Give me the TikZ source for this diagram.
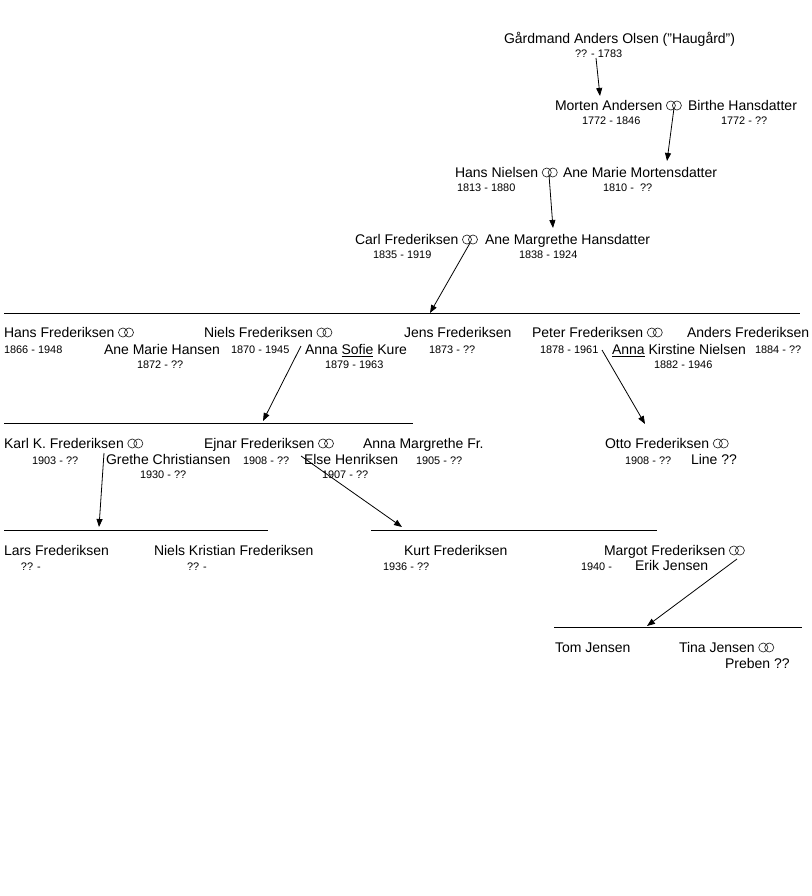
\documentclass[tikz,border=0pt]{standalone}
\usepackage{fontspec}
\setmainfont{Liberation Sans}
\usetikzlibrary{arrows.meta}

\begin{document}
\begin{tikzpicture}[
  x=0.75pt, y=-0.75pt,
  every node/.style = {anchor=base west, inner sep=0pt, outer sep=0pt},
  person/.style = {font=\fontsize{10.5}{12}\selectfont},
  years/.style = {font=\fontsize{8.2}{10}\selectfont},
  rings/.pic = {\draw[line width=0.5pt, black!85]
      (8.5,-4.5) circle[radius=3.4pt] (14.5,-4.5) circle[radius=3.4pt];},
  descent/.style = {-{Triangle[length=6pt,width=4.5pt]}, line width=0.6pt},
  sibs/.style = {line width=0.75pt}
]
  \useasboundingbox (0,0) rectangle (812,896);

  % generation 1
  \node[person] (gaard) at (504,43) {Gårdmand Anders Olsen ("Haugård")};
  \node[years] (gaard-y) at (575,57) {?? - 1783};

  % generation 2
  \node[person] (morten) at (555,110) {Morten Andersen};
  \pic (morten-r) at (morten.base east) {rings};
  \node[person] (birthe) at (688,110) {Birthe Hansdatter};
  \node[years] (morten-y) at (582,124) {1772 - 1846};
  \node[years] (birthe-y) at (721,124) {1772 - ??};

  % generation 3
  \node[person] (hans) at (455,177) {Hans Nielsen};
  \pic (hans-r) at (hans.base east) {rings};
  \node[person] (anemarie) at (563,177) {Ane Marie Mortensdatter};
  \node[years] (hans-y) at (457,191) {1813 - 1880};
  \node[years] (anemarie-y) at (603,191) {1810 -~~??};

  % generation 4
  \node[person] (carl) at (355,244) {Carl Frederiksen};
  \pic (carl-r) at (carl.base east) {rings};
  \node[person] (anemargrethe) at (485,244) {Ane Margrethe Hansdatter};
  \node[years] (carl-y) at (373,258) {1835 - 1919};
  \node[years] (anemargrethe-y) at (519,258) {1838 - 1924};

  % generation 5
  \node[person] (hansf) at (4,337) {Hans Frederiksen};
  \pic (hansf-r) at (hansf.base east) {rings};
  \node[years] (hansf-y) at (4,353) {1866 - 1948};
  \node[person] (amhansen) at (104,354) {Ane Marie Hansen};
  \node[years] (amhansen-y) at (137,368) {1872 - ??};
  \node[person] (niels) at (204,337) {Niels Frederiksen};
  \pic (niels-r) at (niels.base east) {rings};
  \node[years] (niels-y) at (231,353) {1870 - 1945};
  \node[person] (sofie) at (305,354) {Anna \underline{Sofie} Kure};
  \node[years] (sofie-y) at (325,368) {1879 - 1963};
  \node[person] (jens) at (404,337) {Jens Frederiksen};
  \node[years] (jens-y) at (429,353) {1873 - ??};
  \node[person] (peter) at (532,337) {Peter Frederiksen};
  \pic (peter-r) at (peter.base east) {rings};
  \node[years] (peter-y) at (540,353) {1878 - 1961};
  \node[person] (kirstine) at (612,354) {\underline{Anna} Kirstine Nielsen};
  \node[years] (kirstine-y) at (654,368) {1882 - 1946};
  \node[person] (anders) at (687,337) {Anders Frederiksen};
  \node[years] (anders-y) at (755,353) {1884 - ??};

  % generation 6
  \node[person] (karl) at (4,448) {Karl K. Frederiksen};
  \pic (karl-r) at (karl.base east) {rings};
  \node[years] (karl-y) at (32,464) {1903 - ??};
  \node[person] (grethe) at (106,464) {Grethe Christiansen};
  \node[years] (grethe-y) at (140,478) {1930 - ??};
  \node[person] (ejnar) at (204,448) {Ejnar Frederiksen};
  \pic (ejnar-r) at (ejnar.base east) {rings};
  \node[years] (ejnar-y) at (243,464) {1908 - ??};
  \node[person] (else) at (304,464) {Else Henriksen};
  \node[years] (else-y) at (322,478) {1907 - ??};
  \node[person] (annam) at (363,448) {Anna Margrethe Fr.};
  \node[years] (annam-y) at (416,464) {1905 - ??};
  \node[person] (otto) at (605,448) {Otto Frederiksen};
  \pic (otto-r) at (otto.base east) {rings};
  \node[years] (otto-y) at (625,464) {1908 - ??};
  \node[person] (line) at (691,464) {Line ??};

  % generation 7
  \node[person] (lars) at (4,555) {Lars Frederiksen};
  \node[years] (lars-y) at (21,570) {?? -};
  \node[person] (nielsk) at (154,555) {Niels Kristian Frederiksen};
  \node[years] (nielsk-y) at (187,570) {?? -};
  \node[person] (kurt) at (404,555) {Kurt Frederiksen};
  \node[years] (kurt-y) at (383,570) {1936 - ??};
  \node[person] (margot) at (604,555) {Margot Frederiksen};
  \pic (margot-r) at (margot.base east) {rings};
  \node[years] (margot-y) at (581,570) {1940 -};
  \node[person] (erik) at (635,570) {Erik Jensen};

  % generation 8
  \node[person] (tom) at (555,652) {Tom Jensen};
  \node[person] (tina) at (679,652) {Tina Jensen};
  \pic (tina-r) at (tina.base east) {rings};
  \node[person] (preben) at (725,668) {Preben ??};

  % sibling lines
  \coordinate (sib5-l) at (4,313);   \coordinate (sib5-r) at (800,313);
  \coordinate (sib6-l) at (4,423);   \coordinate (sib6-r) at (413,423);
  \coordinate (sib7a-l) at (4,530);  \coordinate (sib7a-r) at (268,530);
  \coordinate (sib7b-l) at (371,530); \coordinate (sib7b-r) at (657,530);
  \coordinate (sib8-l) at (554,627); \coordinate (sib8-r) at (802,627);
  \draw[sibs] (sib5-l) -- (sib5-r);
  \draw[sibs] (sib6-l) -- (sib6-r);
  \draw[sibs] (sib7a-l) -- (sib7a-r);
  \draw[sibs] (sib7b-l) -- (sib7b-r);
  \draw[sibs] (sib8-l) -- (sib8-r);

  % descent arrows
  \coordinate (gaard-out) at (596,58);    \coordinate (morten-in) at (600,96);
  \coordinate (morten-out) at (674,108);  \coordinate (hans-in) at (667,161);
  \coordinate (hans-out) at (549,175);    \coordinate (carl-in) at (553,228);
  \coordinate (carl-out) at (470,243);    \coordinate (sib5-in) at (430,313);
  \coordinate (niels-out) at (301,346);   \coordinate (sib6-in) at (263,421);
  \coordinate (peter-out) at (602,350);   \coordinate (otto-in) at (645,424);
  \coordinate (karl-out) at (104,453);    \coordinate (sib7a-in) at (99,527);
  \coordinate (ejnar-out) at (301,456);   \coordinate (sib7b-in) at (402,527);
  \coordinate (margot-out) at (737,559);  \coordinate (sib8-in) at (647,626);
  \draw[descent] (gaard-out) -- (morten-in);
  \draw[descent] (morten-out) -- (hans-in);
  \draw[descent] (hans-out) -- (carl-in);
  \draw[descent] (carl-out) -- (sib5-in);
  \draw[descent] (niels-out) -- (sib6-in);
  \draw[descent] (peter-out) -- (otto-in);
  \draw[descent] (karl-out) -- (sib7a-in);
  \draw[descent] (ejnar-out) -- (sib7b-in);
  \draw[descent] (margot-out) -- (sib8-in);
\end{tikzpicture}
\end{document}
